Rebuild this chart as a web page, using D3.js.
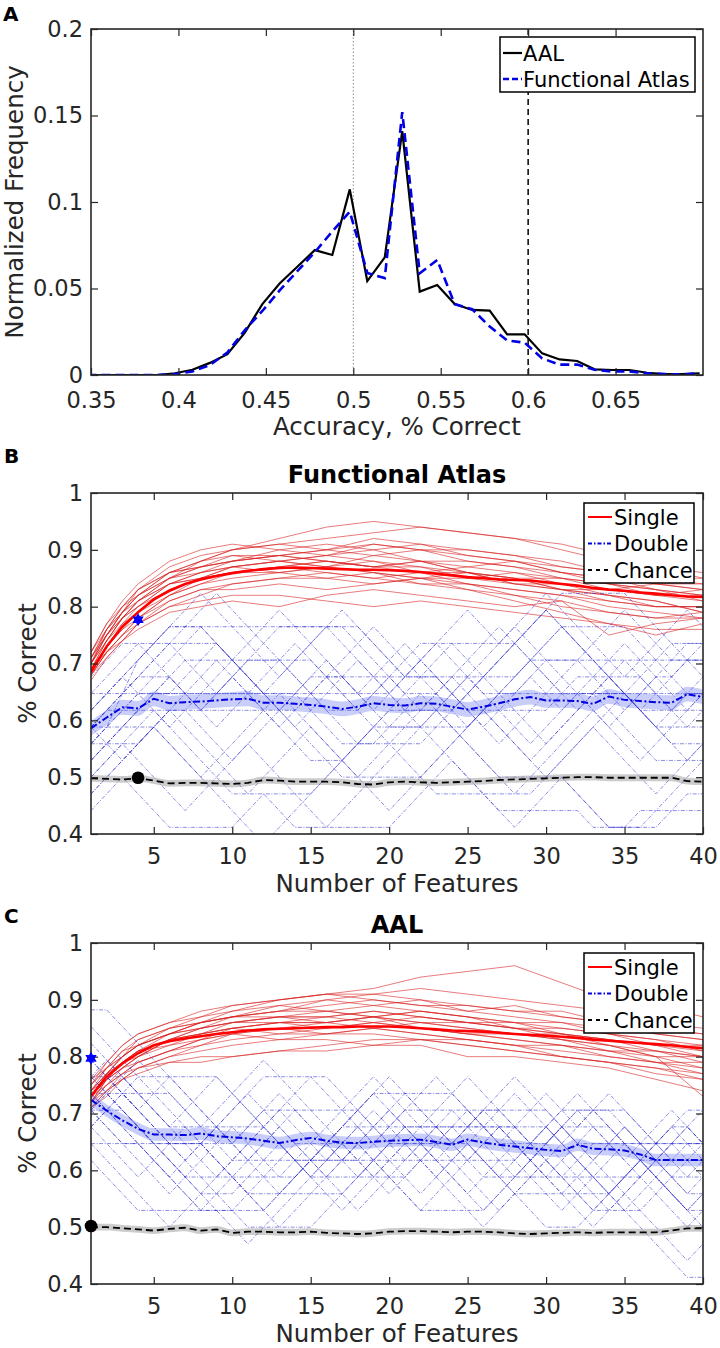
<!DOCTYPE html>
<html>
<head>
<meta charset="utf-8">
<script src="https://cdn.jsdelivr.net/npm/d3@7"></script>
<style>
  body { margin: 0; background: #fff; }
  text { font-family: "DejaVu Sans", sans-serif; }
</style>
</head>
<body>
<div id="container"></div>
<script>
const width = 720, height = 1348;
const ink = "#262626";

/* DATA */
// panel A - histogram of accuracies (bin centres + normalized frequency)
const binCenters = [0.348, 0.358, 0.368, 0.378, 0.388, 0.398, 0.408, 0.418, 0.428, 0.438, 0.448, 0.458,
  0.468, 0.478, 0.488, 0.498, 0.508, 0.518, 0.528, 0.538, 0.548, 0.558, 0.568, 0.578,
  0.588, 0.598, 0.608, 0.618, 0.628, 0.638, 0.648, 0.658, 0.668, 0.678, 0.688, 0.698];
const aalFreq = [0, 0, 0, 0, 0, 0.001, 0.003, 0.007, 0.012, 0.0245, 0.041, 0.053,
  0.0626, 0.0722, 0.0694, 0.1073, 0.0543, 0.068, 0.141, 0.0482, 0.052, 0.041, 0.0376, 0.0372,
  0.0235, 0.0235, 0.0125, 0.009, 0.0081, 0.0033, 0.0029, 0.0029, 0.0013, 0.0005, 0.0005, 0.001];
const funcFreq = [0, 0, 0, 0, 0, 0.0005, 0.002, 0.0058, 0.013, 0.026, 0.037, 0.049,
  0.060, 0.071, 0.083, 0.0944, 0.059, 0.056, 0.152, 0.0588, 0.0665, 0.041, 0.038, 0.028,
  0.020, 0.0187, 0.0096, 0.006, 0.006, 0.003, 0.002, 0.002, 0.001, 0.0005, 0.0003, 0.001];
const aTicksX = [0.35, 0.4, 0.45, 0.5, 0.55, 0.6, 0.65];
const aTicksY = [0, 0.05, 0.1, 0.15, 0.2];
const chanceLine = 0.5, thresholdLine = 0.6;

// panels B and C - number of features
const features = [1, 2, 3, 4, 5, 6, 7, 8, 9, 10, 11, 12, 13, 14, 15, 16, 17, 18, 19, 20,
  21, 22, 23, 24, 25, 26, 27, 28, 29, 30, 31, 32, 33, 34, 35, 36, 37, 38, 39, 40];
const featTicks = [5, 10, 15, 20, 25, 30, 35, 40];
const pctTicks = [0.4, 0.5, 0.6, 0.7, 0.8, 0.9, 1];
// knots at which individual single-feature runs are sampled
const singleKnots = [1, 2, 3, 4, 6, 8, 10, 13, 16, 19, 22, 25, 28, 31, 34, 37, 40];

// B - Functional Atlas
const funcSingleMean = [0.685, 0.73, 0.765, 0.79, 0.813, 0.828, 0.84, 0.848, 0.854, 0.859, 0.863, 0.866, 0.868, 0.869, 0.868, 0.867, 0.866, 0.865, 0.865, 0.864,
  0.863, 0.861, 0.858, 0.855, 0.852, 0.85, 0.848, 0.847, 0.846, 0.843, 0.84, 0.837, 0.833, 0.83, 0.828, 0.825, 0.823, 0.82, 0.818, 0.817];
const funcDoubleMean = [0.586, 0.605, 0.623, 0.621, 0.638, 0.630, 0.632, 0.633, 0.635, 0.637, 0.638, 0.631, 0.631, 0.629, 0.627, 0.624, 0.620, 0.624, 0.630, 0.627,
  0.626, 0.630, 0.629, 0.624, 0.619, 0.624, 0.630, 0.637, 0.641, 0.635, 0.635, 0.634, 0.629, 0.642, 0.636, 0.634, 0.632, 0.631, 0.646, 0.641];
const funcChanceMean = [0.498, 0.497, 0.496, 0.498, 0.494, 0.489, 0.490, 0.490, 0.489, 0.488, 0.490, 0.495, 0.494, 0.492, 0.492, 0.492, 0.491, 0.488, 0.487, 0.491,
  0.492, 0.491, 0.490, 0.491, 0.492, 0.493, 0.495, 0.496, 0.497, 0.498, 0.499, 0.500, 0.500, 0.499, 0.499, 0.499, 0.499, 0.499, 0.493, 0.492];
const funcDoubleSem = 0.013, funcChanceSem = 0.006;
const funcSingleRuns = [
  [0.70, 0.76, 0.80, 0.83, 0.87, 0.89, 0.90, 0.91, 0.92, 0.93, 0.94, 0.93, 0.92, 0.90, 0.88, 0.87, 0.86],
  [0.69, 0.74, 0.78, 0.81, 0.85, 0.88, 0.90, 0.92, 0.94, 0.95, 0.94, 0.93, 0.92, 0.91, 0.89, 0.87, 0.85],
  [0.68, 0.72, 0.75, 0.77, 0.80, 0.81, 0.82, 0.82, 0.81, 0.80, 0.81, 0.80, 0.79, 0.78, 0.77, 0.76, 0.76],
  [0.71, 0.75, 0.78, 0.80, 0.83, 0.85, 0.86, 0.87, 0.88, 0.87, 0.88, 0.86, 0.85, 0.85, 0.83, 0.82, 0.82],
  [0.67, 0.71, 0.74, 0.77, 0.81, 0.83, 0.84, 0.85, 0.85, 0.86, 0.84, 0.83, 0.82, 0.81, 0.79, 0.78, 0.79],
  [0.70, 0.75, 0.79, 0.82, 0.86, 0.87, 0.88, 0.89, 0.90, 0.89, 0.90, 0.89, 0.88, 0.86, 0.85, 0.84, 0.83],
  [0.69, 0.73, 0.76, 0.78, 0.82, 0.84, 0.85, 0.86, 0.87, 0.86, 0.85, 0.85, 0.86, 0.84, 0.82, 0.80, 0.80],
  [0.72, 0.76, 0.79, 0.81, 0.84, 0.86, 0.87, 0.88, 0.87, 0.88, 0.87, 0.86, 0.84, 0.84, 0.83, 0.84, 0.84],
  [0.68, 0.72, 0.74, 0.76, 0.79, 0.80, 0.81, 0.80, 0.82, 0.83, 0.82, 0.81, 0.80, 0.81, 0.75, 0.77, 0.78],
  [0.70, 0.74, 0.77, 0.80, 0.84, 0.86, 0.88, 0.90, 0.91, 0.90, 0.91, 0.90, 0.89, 0.88, 0.86, 0.85, 0.84],
  [0.69, 0.73, 0.77, 0.79, 0.82, 0.84, 0.86, 0.87, 0.86, 0.85, 0.84, 0.84, 0.83, 0.82, 0.81, 0.80, 0.80],
  [0.71, 0.76, 0.80, 0.82, 0.85, 0.87, 0.89, 0.89, 0.88, 0.87, 0.87, 0.85, 0.84, 0.83, 0.83, 0.82, 0.81],
  [0.68, 0.71, 0.74, 0.77, 0.80, 0.82, 0.84, 0.85, 0.86, 0.85, 0.86, 0.84, 0.83, 0.82, 0.80, 0.79, 0.78],
  [0.70, 0.75, 0.79, 0.83, 0.86, 0.88, 0.89, 0.88, 0.89, 0.90, 0.88, 0.87, 0.88, 0.86, 0.84, 0.83, 0.82],
  [0.69, 0.74, 0.78, 0.80, 0.84, 0.85, 0.87, 0.88, 0.89, 0.88, 0.86, 0.86, 0.85, 0.83, 0.82, 0.81, 0.79],
  [0.72, 0.77, 0.81, 0.84, 0.88, 0.90, 0.91, 0.90, 0.89, 0.91, 0.90, 0.88, 0.87, 0.85, 0.84, 0.82, 0.83],
  [0.70, 0.75, 0.78, 0.81, 0.85, 0.87, 0.88, 0.89, 0.90, 0.91, 0.90, 0.90, 0.89, 0.87, 0.86, 0.85, 0.85],
  [0.69, 0.73, 0.76, 0.79, 0.83, 0.85, 0.86, 0.86, 0.85, 0.84, 0.85, 0.84, 0.82, 0.80, 0.79, 0.78, 0.78],
  [0.71, 0.76, 0.79, 0.82, 0.86, 0.88, 0.90, 0.91, 0.90, 0.92, 0.91, 0.89, 0.88, 0.87, 0.86, 0.84, 0.83],
  [0.68, 0.72, 0.75, 0.78, 0.81, 0.83, 0.83, 0.84, 0.83, 0.84, 0.85, 0.83, 0.81, 0.79, 0.77, 0.75, 0.77],
  [0.70, 0.74, 0.78, 0.81, 0.84, 0.85, 0.86, 0.87, 0.88, 0.87, 0.86, 0.87, 0.86, 0.85, 0.84, 0.83, 0.81],
  [0.72, 0.77, 0.80, 0.83, 0.86, 0.87, 0.88, 0.89, 0.88, 0.87, 0.88, 0.88, 0.87, 0.86, 0.85, 0.83, 0.82],
  [0.69, 0.72, 0.75, 0.78, 0.82, 0.85, 0.87, 0.88, 0.87, 0.89, 0.88, 0.86, 0.85, 0.83, 0.81, 0.80, 0.80],
  [0.71, 0.75, 0.79, 0.82, 0.85, 0.86, 0.87, 0.86, 0.87, 0.86, 0.85, 0.86, 0.84, 0.83, 0.82, 0.81, 0.79]
];
// double-feature runs: number correct out of 34 test trials
const funcDoubleRuns = [
  [20,21,22,23,23,23,22,21,22,23,24,24,24,23,22,21,21,21,22,23,24,25,25,24,23,22,22,22,23,24,24,24,23,22,21,22,23,23,24,24],
  [19,20,21,22,23,24,25,26,25,24,23,22,23,24,25,26,26,25,24,23,22,22,22,21,20,21,22,23,24,25,26,25,24,23,22,21,21,21,22,23],
  [18,19,20,21,21,21,21,20,19,18,19,20,21,22,21,20,19,19,19,20,21,22,21,20,19,18,17,16,17,18,19,20,21,20,19,18,19,20,21,22],
  [21,22,23,24,25,26,26,26,25,24,25,26,27,26,25,24,23,22,23,24,25,24,23,22,23,24,25,26,25,24,23,24,25,26,27,26,25,24,25,25],
  [17,18,19,18,17,16,15,16,17,18,19,18,17,16,15,14,15,16,17,18,19,20,19,18,17,16,15,14,15,16,17,16,15,14,14,14,15,16,17,18],
  [20,21,21,21,22,23,22,21,20,21,22,22,22,22,23,24,23,22,21,20,20,20,21,22,23,22,21,20,19,20,21,22,22,22,22,21,20,21,22,22],
  [19,20,22,24,25,26,27,28,27,26,25,24,23,24,25,26,27,26,25,24,23,24,25,26,27,26,25,26,27,28,27,26,25,24,23,24,25,26,27,26],
  [20,19,18,19,20,21,22,23,24,23,22,21,20,19,18,18,18,19,20,21,22,23,24,25,24,23,22,21,20,19,20,21,22,23,24,23,22,21,20,21],
  [21,22,23,22,21,20,21,22,23,24,23,22,21,22,23,23,23,22,21,22,23,24,23,22,21,20,21,22,23,22,21,22,23,24,25,24,23,24,24,24],
  [18,19,20,20,20,19,18,17,18,19,20,21,22,21,20,19,18,17,18,19,20,21,22,23,22,21,20,19,18,19,20,21,22,21,20,19,18,18,18,19],
  [22,23,24,25,24,23,22,21,22,23,22,21,20,21,22,23,24,25,26,25,24,23,22,21,22,23,24,25,26,27,26,25,24,23,22,23,24,25,24,23],
  [16,17,18,19,20,21,20,19,18,17,16,17,18,19,20,19,18,17,16,15,16,17,18,19,20,21,20,19,18,17,18,19,20,19,18,17,16,17,18,19],
  [20,21,22,23,24,25,24,23,22,22,22,23,24,25,24,23,22,21,22,23,22,21,22,23,24,25,26,25,24,23,22,21,22,23,22,21,22,23,24,25],
  [19,20,21,22,22,22,23,24,25,24,23,22,21,20,21,22,23,24,23,22,21,20,21,22,21,20,19,20,21,22,23,22,21,20,21,22,23,22,21,22],
  [22,22,22,22,22,22,22,22,22,23,24,25,26,26,26,26,26,26,25,24,23,23,23,23,23,23,23,23,24,25,26,26,26,26,26,25,24,24,24,24],
  [20,20,20,21,22,23,24,24,24,24,24,24,24,24,24,23,22,21,20,20,20,20,20,20,20,21,22,23,24,24,24,24,24,24,24,24,24,23,22,22],
  [18,19,20,21,22,22,22,22,22,22,22,22,21,20,19,18,17,17,17,17,17,17,18,19,20,21,22,22,22,22,22,22,22,22,22,21,20,19,19,19],
  [21,22,23,24,25,26,26,26,26,26,26,26,26,26,26,26,25,24,23,22,21,21,21,21,22,23,24,25,26,27,28,28,28,28,28,27,26,25,25,25],
  [15,16,17,16,15,14,14,14,14,14,15,16,15,14,14,14,14,14,14,14,15,16,17,18,17,16,15,15,15,15,15,15,14,14,14,15,15,15,15,15],
  [19,19,19,19,20,21,21,21,21,21,21,21,21,21,22,23,23,23,23,23,23,23,23,22,21,21,21,21,21,21,22,23,23,23,23,23,22,21,21,21],
  [17,18,19,20,21,20,19,18,17,16,16,16,16,16,16,17,18,19,20,21,21,21,21,20,19,18,17,17,17,17,17,16,15,14,14,14,14,15,16,16],
  [23,24,25,25,25,25,25,25,25,24,23,22,22,22,22,22,22,22,22,22,23,24,25,25,25,25,25,25,24,23,22,22,22,22,22,22,22,22,22,22],
  [20,21,22,23,24,25,26,27,28,27,26,25,24,23,22,21,20,19,19,19,19,19,20,21,22,23,24,25,26,27,26,25,24,23,22,21,20,20,20,20],
  [16,17,18,19,20,19,18,17,16,15,14,13,14,15,16,17,18,19,20,19,18,17,16,16,16,16,16,16,16,17,18,19,20,21,22,21,20,19,18,18]
];
const funcBest = { double: [4, 0.777], chance: [4, 0.499] };

// C - AAL
const aalSingleMean = [0.73, 0.765, 0.788, 0.806, 0.82, 0.827, 0.832, 0.836, 0.84, 0.843, 0.846, 0.848, 0.849, 0.85, 0.851, 0.852, 0.852, 0.853, 0.853, 0.853,
  0.852, 0.85, 0.848, 0.846, 0.845, 0.844, 0.842, 0.84, 0.838, 0.837, 0.835, 0.833, 0.83, 0.828, 0.826, 0.824, 0.822, 0.82, 0.817, 0.815];
const aalDoubleMean = [0.724, 0.705, 0.688, 0.673, 0.663, 0.663, 0.662, 0.665, 0.660, 0.658, 0.656, 0.652, 0.648, 0.653, 0.657, 0.652, 0.649, 0.648, 0.650, 0.652,
  0.653, 0.654, 0.650, 0.645, 0.654, 0.649, 0.645, 0.642, 0.639, 0.636, 0.634, 0.645, 0.638, 0.637, 0.635, 0.628, 0.618, 0.618, 0.618, 0.618];
const aalChanceMean = [0.500, 0.500, 0.498, 0.496, 0.494, 0.497, 0.499, 0.494, 0.496, 0.490, 0.492, 0.492, 0.491, 0.491, 0.492, 0.490, 0.489, 0.488, 0.489, 0.492,
  0.493, 0.493, 0.492, 0.491, 0.492, 0.492, 0.491, 0.489, 0.488, 0.489, 0.490, 0.491, 0.490, 0.491, 0.491, 0.491, 0.491, 0.494, 0.498, 0.498];
const aalDoubleSem = 0.011, aalChanceSem = 0.006;
const aalSingleRuns = [
  [0.74, 0.78, 0.80, 0.82, 0.85, 0.87, 0.88, 0.90, 0.91, 0.92, 0.94, 0.95, 0.96, 0.93, 0.90, 0.89, 0.87],
  [0.73, 0.76, 0.79, 0.81, 0.83, 0.85, 0.87, 0.89, 0.90, 0.91, 0.92, 0.91, 0.90, 0.89, 0.88, 0.86, 0.85],
  [0.72, 0.74, 0.76, 0.77, 0.79, 0.80, 0.80, 0.81, 0.81, 0.82, 0.82, 0.80, 0.80, 0.79, 0.78, 0.76, 0.74],
  [0.75, 0.78, 0.81, 0.82, 0.84, 0.85, 0.86, 0.86, 0.87, 0.86, 0.87, 0.86, 0.85, 0.84, 0.83, 0.82, 0.81],
  [0.71, 0.74, 0.77, 0.79, 0.81, 0.82, 0.84, 0.85, 0.86, 0.87, 0.85, 0.84, 0.83, 0.82, 0.80, 0.79, 0.79],
  [0.73, 0.77, 0.80, 0.83, 0.85, 0.86, 0.87, 0.88, 0.89, 0.90, 0.89, 0.89, 0.88, 0.87, 0.86, 0.85, 0.84],
  [0.74, 0.76, 0.78, 0.79, 0.81, 0.83, 0.84, 0.83, 0.84, 0.85, 0.84, 0.83, 0.82, 0.81, 0.80, 0.79, 0.78],
  [0.72, 0.76, 0.79, 0.80, 0.82, 0.83, 0.85, 0.86, 0.86, 0.85, 0.86, 0.85, 0.84, 0.83, 0.82, 0.80, 0.80],
  [0.73, 0.75, 0.77, 0.78, 0.79, 0.79, 0.80, 0.81, 0.82, 0.83, 0.83, 0.82, 0.81, 0.80, 0.79, 0.77, 0.76],
  [0.76, 0.79, 0.82, 0.84, 0.86, 0.87, 0.89, 0.90, 0.91, 0.90, 0.89, 0.88, 0.89, 0.87, 0.86, 0.84, 0.83],
  [0.72, 0.75, 0.78, 0.80, 0.83, 0.84, 0.85, 0.86, 0.85, 0.86, 0.85, 0.84, 0.84, 0.83, 0.81, 0.81, 0.80],
  [0.74, 0.77, 0.80, 0.82, 0.84, 0.86, 0.87, 0.87, 0.88, 0.89, 0.88, 0.87, 0.86, 0.85, 0.84, 0.83, 0.82],
  [0.71, 0.73, 0.76, 0.78, 0.80, 0.82, 0.83, 0.84, 0.84, 0.84, 0.83, 0.83, 0.82, 0.82, 0.81, 0.79, 0.77],
  [0.75, 0.78, 0.81, 0.83, 0.85, 0.86, 0.88, 0.89, 0.88, 0.87, 0.88, 0.87, 0.86, 0.86, 0.84, 0.83, 0.81],
  [0.73, 0.76, 0.78, 0.80, 0.83, 0.84, 0.86, 0.87, 0.87, 0.88, 0.87, 0.86, 0.85, 0.84, 0.83, 0.82, 0.80],
  [0.74, 0.77, 0.79, 0.81, 0.82, 0.84, 0.85, 0.86, 0.86, 0.87, 0.86, 0.86, 0.85, 0.83, 0.82, 0.80, 0.73],
  [0.73, 0.77, 0.80, 0.82, 0.84, 0.86, 0.87, 0.88, 0.90, 0.89, 0.90, 0.88, 0.87, 0.86, 0.85, 0.84, 0.83],
  [0.72, 0.75, 0.77, 0.79, 0.81, 0.83, 0.84, 0.85, 0.84, 0.85, 0.84, 0.83, 0.82, 0.80, 0.79, 0.78, 0.76],
  [0.75, 0.79, 0.82, 0.84, 0.86, 0.88, 0.89, 0.90, 0.91, 0.91, 0.90, 0.89, 0.88, 0.88, 0.86, 0.85, 0.84],
  [0.71, 0.74, 0.76, 0.78, 0.80, 0.81, 0.82, 0.83, 0.83, 0.82, 0.83, 0.82, 0.81, 0.80, 0.79, 0.78, 0.77],
  [0.74, 0.77, 0.79, 0.81, 0.83, 0.85, 0.86, 0.87, 0.87, 0.88, 0.87, 0.86, 0.86, 0.84, 0.83, 0.81, 0.80],
  [0.73, 0.76, 0.79, 0.81, 0.84, 0.86, 0.87, 0.88, 0.88, 0.87, 0.88, 0.87, 0.85, 0.85, 0.84, 0.82, 0.82],
  [0.76, 0.78, 0.80, 0.82, 0.84, 0.85, 0.86, 0.87, 0.86, 0.87, 0.86, 0.85, 0.84, 0.84, 0.82, 0.81, 0.79],
  [0.72, 0.76, 0.78, 0.80, 0.83, 0.84, 0.85, 0.84, 0.85, 0.86, 0.85, 0.84, 0.83, 0.82, 0.81, 0.80, 0.78]
];
const aalDoubleRuns = [
  [30,30,29,28,27,26,25,24,23,22,23,24,25,24,23,22,21,22,23,24,25,24,23,22,21,22,23,22,21,20,21,22,23,22,21,20,21,22,21,20],
  [25,24,23,22,21,20,19,18,19,20,21,22,23,22,21,20,19,18,19,20,21,22,21,20,19,18,19,20,21,22,21,20,19,18,19,20,21,20,19,20],
  [24,25,26,27,26,25,24,23,24,25,26,27,26,25,24,23,24,25,26,25,24,23,24,25,26,25,24,23,22,23,24,25,24,23,22,21,22,23,22,22],
  [26,25,24,23,22,21,20,19,18,17,16,17,18,19,20,21,22,21,20,21,22,23,22,21,20,19,18,19,20,21,20,19,18,19,20,21,20,19,18,17],
  [23,24,25,24,23,22,22,22,23,24,25,24,23,22,21,20,21,22,23,24,23,22,21,22,23,24,25,26,25,24,23,22,21,22,23,22,21,20,21,22],
  [27,26,25,24,25,26,25,24,23,22,21,22,23,24,23,22,23,24,25,24,23,22,23,24,23,22,21,20,21,22,23,22,21,20,19,18,17,16,15,16],
  [24,23,22,21,20,19,20,21,22,23,22,21,20,21,22,23,22,21,20,19,20,21,22,23,24,23,22,21,20,19,18,19,20,21,22,21,20,21,22,21],
  [25,26,25,24,23,22,21,22,23,22,21,20,19,20,21,22,23,24,25,26,25,24,23,22,23,24,23,22,21,22,23,24,23,22,21,22,23,24,23,22],
  [22,21,20,19,18,17,18,19,20,21,22,23,22,21,20,19,18,19,20,21,22,21,20,19,18,17,18,19,20,21,22,21,20,19,18,19,20,19,18,19],
  [26,27,26,25,24,23,24,25,26,25,24,23,24,25,26,25,24,23,22,23,24,25,26,25,24,23,22,23,24,25,24,23,24,25,24,23,22,23,24,24],
  [23,22,21,20,21,22,23,22,21,20,19,18,19,20,21,22,21,20,21,22,23,22,21,20,19,20,21,22,21,20,19,18,17,18,19,20,19,18,17,18],
  [28,27,26,25,24,23,22,21,20,21,22,23,24,23,22,21,22,23,24,23,22,21,20,21,22,23,24,25,24,23,22,23,24,23,22,21,22,21,20,21],
  [24,24,24,23,22,21,20,19,19,19,20,21,22,21,20,21,22,23,22,21,20,19,20,21,22,21,20,21,22,23,22,21,20,19,20,21,20,19,18,19],
  [25,24,23,22,21,20,21,22,21,20,19,18,17,18,19,20,21,22,21,20,19,18,19,20,21,22,23,22,21,20,19,20,21,22,23,22,21,22,23,22],
  [26,26,26,25,24,23,23,23,23,23,23,23,22,21,20,20,20,20,20,20,20,21,22,23,23,23,23,23,22,21,20,20,20,20,20,20,21,22,22,22],
  [24,23,22,22,22,22,22,22,22,22,23,24,24,24,24,24,24,24,23,22,21,21,21,21,21,21,21,21,22,23,24,24,24,24,24,23,22,21,21,21],
  [29,28,27,26,25,24,23,22,21,20,19,19,19,19,19,19,19,20,21,22,22,22,22,22,22,21,20,19,19,19,19,19,19,19,20,21,21,21,21,21],
  [22,22,22,22,21,20,19,18,18,18,18,18,19,20,21,22,23,24,25,25,25,25,25,25,24,23,22,22,22,22,23,24,24,24,23,22,21,20,19,19],
  [25,25,25,25,25,25,24,23,22,21,21,21,21,21,21,21,21,21,22,23,24,24,24,24,24,24,24,23,22,21,20,19,18,18,18,18,19,20,20,20],
  [23,24,25,26,26,26,26,26,26,25,24,23,22,21,21,21,21,21,21,21,21,22,23,23,23,23,23,23,23,23,22,21,20,19,18,17,16,15,14,14],
  [26,25,24,23,22,21,20,20,20,20,20,20,20,20,21,22,23,23,23,23,23,23,23,22,21,20,20,20,20,20,20,21,22,22,22,22,22,22,23,24],
  [24,25,24,23,22,22,22,22,23,24,25,26,26,26,26,26,25,24,23,22,22,22,22,22,23,24,24,24,24,24,23,22,22,22,22,22,22,22,22,22],
  [21,20,19,18,18,18,18,18,18,18,19,20,21,22,22,22,22,22,21,20,19,18,18,18,18,18,19,20,21,22,23,23,23,23,22,21,20,19,18,18],
  [27,26,25,24,23,22,21,20,19,18,17,17,17,17,17,18,19,20,21,22,23,23,23,23,22,21,20,19,18,17,17,17,18,19,20,21,22,23,23,22]
];
const aalBest = { double: [1, 0.797], chance: [1, 0.502] };
const trialsPerRun = 34;

/* HTML ELEMENTS */
const svg = d3.select("#container")
  .append("svg")
  .attr("width", width)
  .attr("height", height)
  .style("background-color", "#fff")

// six-pointed star, like matlab's 'h' marker
const hexagram = {
  draw(context, size) {
    const R = Math.sqrt(size) / 2, r = R / Math.sqrt(3);
    for (let i = 0; i < 12; i++) {
      const a = -Math.PI / 2 + i * Math.PI / 6;
      const rad = i % 2 === 0 ? R : r;
      if (i === 0) context.moveTo(rad * Math.cos(a), rad * Math.sin(a));
      else context.lineTo(rad * Math.cos(a), rad * Math.sin(a));
    }
    context.closePath();
  }
};

// box with inward ticks on all four sides
function frame(x, y, xTicks, yTicks, id, xPad = 14) {
  const [xl, xr] = x.range(), [yb, yt] = y.range();
  const g = svg.append("g").attr("color", ink)
  const style = sel => sel.attr("font-size", 22.5).attr("font-family", "DejaVu Sans")
    .call(s => s.select(".domain").remove())
    .call(s => s.selectAll(".tick line").attr("stroke-width", 1.2))

  g.append("g").attr("transform", `translate(0,${yb})`)
    .call(d3.axisBottom(x).tickValues(xTicks).tickSize(-7).tickSizeOuter(0).tickPadding(xPad).tickFormat(d => String(d)))
    .call(style)
  g.append("g").attr("transform", `translate(0,${yt})`)
    .call(d3.axisTop(x).tickValues(xTicks).tickSize(-7).tickSizeOuter(0).tickFormat(""))
    .call(style)
  g.append("g").attr("transform", `translate(${xl},0)`)
    .call(d3.axisLeft(y).tickValues(yTicks).tickSize(-7).tickSizeOuter(0).tickPadding(8).tickFormat(d => String(d)))
    .call(style)
  g.append("g").attr("transform", `translate(${xr},0)`)
    .call(d3.axisRight(y).tickValues(yTicks).tickSize(-7).tickSizeOuter(0).tickFormat(""))
    .call(style)
  g.append("rect")
    .attr("x", xl).attr("y", yt).attr("width", xr - xl).attr("height", yb - yt)
    .attr("fill", "none").attr("stroke", ink).attr("stroke-width", 1.6)

  svg.append("clipPath").attr("id", id)
    .append("rect").attr("x", xl).attr("y", yt).attr("width", xr - xl).attr("height", yb - yt)
  return g
}

function label(x, y, txt, size, opts = {}) {
  const t = svg.append("text")
    .attr("x", x).attr("y", y)
    .attr("font-size", size)
    .attr("fill", opts.fill || ink)
    .attr("font-weight", opts.bold ? "bold" : null)
    .attr("text-anchor", opts.anchor || "middle")
    .text(txt)
  if (opts.rotate) t.attr("transform", `rotate(-90, ${x}, ${y})`)
  return t
}

/* PANEL A */
const xA = d3.scaleLinear().domain([0.35, 0.7]).range([91, 703])
const yA = d3.scaleLinear().domain([0, 0.2]).range([375, 29])

const plotA = svg.append("g").attr("clip-path", "url(#clipA)")

plotA.append("line")
  .attr("x1", xA(chanceLine)).attr("x2", xA(chanceLine)).attr("y1", yA(0)).attr("y2", yA(0.2))
  .attr("stroke", "#8c8c8c").attr("stroke-width", 1).attr("stroke-dasharray", "1.5,2")
plotA.append("line")
  .attr("x1", xA(thresholdLine)).attr("x2", xA(thresholdLine)).attr("y1", yA(0)).attr("y2", yA(0.2))
  .attr("stroke", "#000").attr("stroke-width", 1.5).attr("stroke-dasharray", "6,4")

const histLine = d3.line().x((d, i) => xA(binCenters[i])).y(d => yA(d))
plotA.append("path").datum(aalFreq)
  .attr("d", histLine).attr("fill", "none").attr("stroke", "#000").attr("stroke-width", 2.2)
plotA.append("path").datum(funcFreq)
  .attr("d", histLine).attr("fill", "none").attr("stroke", "#0000e6").attr("stroke-width", 2.6)
  .attr("stroke-dasharray", "9,5")

frame(xA, yA, aTicksX, aTicksY, "clipA", 17)

// legend A
svg.append("rect").attr("x", 500).attr("y", 37).attr("width", 195).attr("height", 55)
  .attr("fill", "#fff").attr("stroke", "#000").attr("stroke-width", 1.5)
svg.append("line").attr("x1", 503).attr("x2", 522).attr("y1", 53).attr("y2", 53)
  .attr("stroke", "#000").attr("stroke-width", 2.2)
svg.append("line").attr("x1", 503).attr("x2", 522).attr("y1", 79).attr("y2", 79)
  .attr("stroke", "#0000e6").attr("stroke-width", 2.6).attr("stroke-dasharray", "6,3")
label(523, 61, "AAL", 21, { anchor: "start", fill: "#000" })
label(523, 87, "Functional Atlas", 21, { anchor: "start", fill: "#000" })

label(397, 435, "Accuracy, % Correct", 24.5)
label(23, 202, "Normalized Frequency", 24.5, { rotate: true })
label(3, 21, "A", 20, { anchor: "start", bold: true, fill: "#000" })

/* PANELS B AND C */
function featurePanel(cfg) {
  const x = d3.scaleLinear().domain([1, 40]).range([91, 703])
  const y = d3.scaleLinear().domain([0.4, 1]).range([cfg.bottom, cfg.top])
  const plot = svg.append("g").attr("clip-path", `url(#${cfg.id})`)

  const knotLine = d3.line().x((d, i) => x(singleKnots[i])).y(d => y(d))
  const featLine = d3.line().x((d, i) => x(features[i])).y(d => y(d))

  // individual runs
  plot.selectAll("path.single")
    .data(cfg.singleRuns)
    .join("path")
    .attr("class", "single")
    .attr("d", knotLine)
    .attr("fill", "none").attr("stroke", "#d82020").attr("stroke-width", 0.7).attr("opacity", 0.85)

  plot.selectAll("path.double")
    .data(cfg.doubleRuns)
    .join("path")
    .attr("class", "double")
    .attr("d", run => featLine(run.map(c => c / trialsPerRun)))
    .attr("fill", "none").attr("stroke", "#1a1acc").attr("stroke-width", 0.6).attr("opacity", 0.85)
    .attr("stroke-dasharray", "4,1.5,1,1.5")

  // error bands
  const band = sem => d3.area().x((d, i) => x(features[i]))
    .y0(d => y(d - sem)).y1(d => y(d + sem)).curve(d3.curveMonotoneX)
  plot.append("path").datum(cfg.doubleMean).attr("d", band(cfg.doubleSem))
    .attr("fill", "#4a58ee").attr("opacity", 0.3)
  plot.append("path").datum(cfg.chanceMean).attr("d", band(cfg.chanceSem))
    .attr("fill", "#8f8f8f").attr("opacity", 0.45)

  // means
  plot.append("path").datum(cfg.chanceMean).attr("d", featLine)
    .attr("fill", "none").attr("stroke", "#000").attr("stroke-width", 1.8).attr("stroke-dasharray", "7,4")
  plot.append("path").datum(cfg.doubleMean).attr("d", featLine)
    .attr("fill", "none").attr("stroke", "#0000e0").attr("stroke-width", 2).attr("stroke-dasharray", "7,2.5,2,2.5")
  plot.append("path").datum(cfg.singleMean).attr("d", featLine)
    .attr("fill", "none").attr("stroke", "#ff0000").attr("stroke-width", 2.6)

  frame(x, y, featTicks, pctTicks, cfg.id)

  // best-count markers
  svg.append("path")
    .attr("d", d3.symbol(hexagram, 170)())
    .attr("transform", `translate(${x(cfg.best.double[0])},${y(cfg.best.double[1])})`)
    .attr("fill", "#0000ff")
  svg.append("circle")
    .attr("cx", x(cfg.best.chance[0])).attr("cy", y(cfg.best.chance[1])).attr("r", 6.3)
    .attr("fill", "#000")

  // legend
  const lt = cfg.top + 10
  svg.append("rect").attr("x", 584).attr("y", lt).attr("width", 110).attr("height", 80)
    .attr("fill", "#fff").attr("stroke", "#000").attr("stroke-width", 1.5)
  const entries = [
    { name: "Single", color: "#ff0000", dash: null },
    { name: "Double", color: "#0000e0", dash: "4,2,1.5,2" },
    { name: "Chance", color: "#000", dash: "4,4" }
  ]
  entries.forEach((e, i) => {
    const cy = lt + 14 + i * 26.5
    svg.append("line").attr("x1", 588).attr("x2", 612).attr("y1", cy).attr("y2", cy)
      .attr("stroke", e.color).attr("stroke-width", 2).attr("stroke-dasharray", e.dash)
    label(614, cy + 7.5, e.name, 21, { anchor: "start", fill: "#000" })
  })

  label(397, cfg.top - 10, cfg.title, 24, { bold: true, fill: "#000" })
  label(397, cfg.bottom + 58, "Number of Features", 24.5)
  label(36, (cfg.top + cfg.bottom) / 2, "% Correct", 24.5, { rotate: true })
  label(4, cfg.letterY, cfg.letter, 20, { anchor: "start", bold: true, fill: "#000" })
}

featurePanel({
  id: "clipB", top: 493, bottom: 834, title: "Functional Atlas", letter: "B", letterY: 463,
  singleRuns: funcSingleRuns, doubleRuns: funcDoubleRuns,
  singleMean: funcSingleMean, doubleMean: funcDoubleMean, chanceMean: funcChanceMean,
  doubleSem: funcDoubleSem, chanceSem: funcChanceSem, best: funcBest
})

featurePanel({
  id: "clipC", top: 943, bottom: 1284, title: "AAL", letter: "C", letterY: 923,
  singleRuns: aalSingleRuns, doubleRuns: aalDoubleRuns,
  singleMean: aalSingleMean, doubleMean: aalDoubleMean, chanceMean: aalChanceMean,
  doubleSem: aalDoubleSem, chanceSem: aalChanceSem, best: aalBest
})
</script>
</body>
</html>
